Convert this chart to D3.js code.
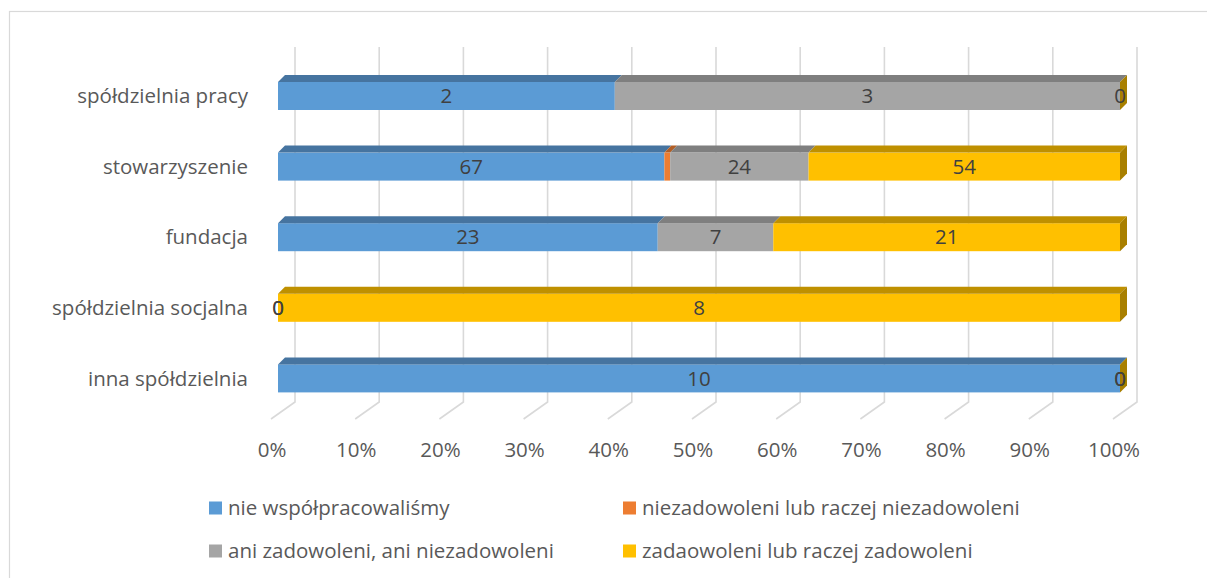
<!DOCTYPE html>
<html>
<head>
<meta charset="utf-8">
<script src="https://cdn.jsdelivr.net/npm/d3@7"></script>
<style>
  body { margin: 0; background: #fff; }
  text { font-family: "Open Sans", Lato, sans-serif; }
</style>
</head>
<body>
<div id="chart-container"></div>
<script>
const categories = ["spółdzielnia pracy", "stowarzyszenie", "fundacja", "spółdzielnia socjalna", "inna spółdzielnia"];
const seriesNames = ["nie współpracowaliśmy", "niezadowoleni lub raczej niezadowoleni", "ani zadowoleni, ani niezadowoleni", "zadaowoleni lub raczej zadowoleni"];
const nieWspolpracowalismy = [2, 67, 23, 0, 10];
const niezadowoleni = [0, 1, 0, 0, 0];
const aniAni = [3, 24, 7, 0, 0];
const zadowoleni = [0, 54, 21, 8, 0];
const tickLabels = ["0%", "10%", "20%", "30%", "40%", "50%", "60%", "70%", "80%", "90%", "100%"];

const colors = ["#5b9bd5", "#ed7d31", "#a5a5a5", "#ffc000"];
const topColors = ["#4674a0", "#b25e25", "#7f7f7f", "#bf9000"];
const sideColors = ["#3a6185", "#94501f", "#6a6a6a", "#a87f00"];
const showLabels = [true, false, true, true];

const W = 1207, H = 578;
const depth = 7;   // bar depth (3d)
const wallDx = 17; // back wall offset
const barH = 28;
const fs = "20.5px";

const svg = d3.select("#chart-container")
  .append("svg")
  .attr("width", W)
  .attr("height", H);

// chart area border
svg.append("rect")
  .attr("x", 9.5).attr("y", 11.5)
  .attr("width", 1220).attr("height", 600)
  .attr("fill", "none")
  .attr("stroke", "#d9d9d9")
  .attr("stroke-width", 1.2);

const x = d3.scaleLinear().domain([0, 1]).range([278, 1120]);
const y = d3.scalePoint().domain(categories).range([60.7, 413.7]).padding(0.5);

// gridlines: back wall + floor
const ticks = d3.range(0, 1.0001, 0.1);
ticks.forEach(t => {
  const bx = x(t) + wallDx;
  svg.append("path")
    .attr("d", `M${bx},47 L${bx},402 L${x(t) - 7},419`)
    .attr("fill", "none")
    .attr("stroke", "#d9d9d9")
    .attr("stroke-width", 1.6);
});

svg.selectAll(".tick-label")
  .data(tickLabels)
  .enter().append("text")
  .attr("class", "tick-label")
  .attr("x", (d, i) => x(ticks[i]) - 6)
  .attr("y", 457)
  .attr("text-anchor", "middle")
  .style("font-size", fs)
  .style("fill", "#595959")
  .text(d => d);

// category labels
svg.selectAll(".cat-label")
  .data(categories)
  .enter().append("text")
  .attr("class", "cat-label")
  .attr("x", 248)
  .attr("y", d => y(d))
  .attr("dy", "0.35em")
  .attr("text-anchor", "end")
  .style("font-size", fs)
  .style("fill", "#595959")
  .text(d => d);

// stack into shares
const values = [nieWspolpracowalismy, niezadowoleni, aniAni, zadowoleni];
const rows = categories.map((c, i) => {
  const total = d3.sum(values, v => v[i]);
  let acc = 0;
  return values.map((v, s) => {
    const seg = { cat: c, s: s, v: v[i], x0: acc / total };
    acc += v[i];
    seg.x1 = acc / total;
    return seg;
  });
});

rows.forEach(segs => {
  const yc = y(segs[0].cat);
  const yt = yc - barH / 2;
  const g = svg.append("g");

  // front faces
  segs.forEach(d => {
    if (d.v === 0) return;
    g.append("rect")
      .attr("x", x(d.x0)).attr("y", yt)
      .attr("width", x(d.x1) - x(d.x0)).attr("height", barH)
      .attr("fill", colors[d.s]);
  });
  // top faces
  segs.forEach(d => {
    if (d.v === 0) return;
    const a = x(d.x0), b = x(d.x1);
    g.append("path")
      .attr("d", `M${a},${yt} L${a + depth},${yt - depth} L${b + depth},${yt - depth} L${b},${yt} Z`)
      .attr("fill", topColors[d.s]);
  });
  // right side face (last series)
  const last = segs[segs.length - 1];
  const e = x(1);
  g.append("path")
    .attr("d", `M${e},${yt} L${e + depth},${yt - depth} L${e + depth},${yt + barH - depth} L${e},${yt + barH} Z`)
    .attr("fill", sideColors[last.s]);

  // data labels
  segs.forEach(d => {
    if (!showLabels[d.s]) return;
    g.append("text")
      .attr("x", (x(d.x0) + x(d.x1)) / 2)
      .attr("y", yc)
      .attr("dy", "0.35em")
      .attr("text-anchor", "middle")
      .style("font-size", fs)
      .style("fill", "#404040")
      .text(d.v);
  });
});

// legend
const legendPos = [[209, 508], [623, 508], [209, 551], [623, 551]];
seriesNames.forEach((n, i) => {
  const [lx, ly] = legendPos[i];
  svg.append("rect")
    .attr("x", lx).attr("y", ly - 6.5)
    .attr("width", 13).attr("height", 13)
    .attr("fill", colors[i]);
  svg.append("text")
    .attr("x", lx + 19).attr("y", ly)
    .attr("dy", "0.35em")
    .style("font-size", fs)
    .style("fill", "#595959")
    .text(n);
});
</script>
</body>
</html>
